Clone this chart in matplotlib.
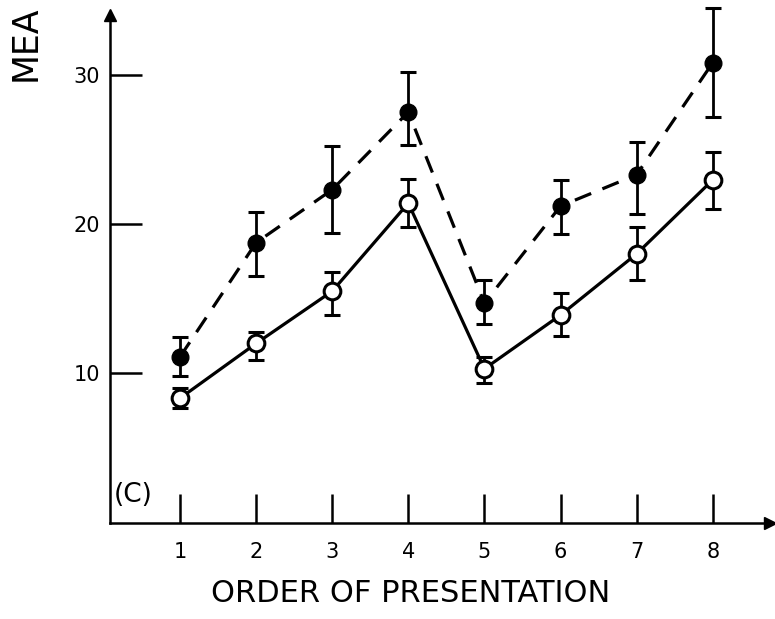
# order of presentation plot (C)

import numpy as np
import matplotlib.pyplot as plt

order = [1, 2, 3, 4, 5, 6, 7, 8]

# filled circles, dashed line
filled_mean = [11.1, 18.75, 22.3, 27.5, 14.7, 21.2, 23.3, 30.8]
filled_lo = [9.8, 16.5, 19.4, 25.3, 13.3, 19.3, 20.7, 27.2]
filled_hi = [12.4, 20.8, 25.2, 30.2, 16.25, 22.95, 25.5, 34.5]

# open circles, solid line
open_mean = [8.33, 12.0, 15.5, 21.4, 10.3, 13.9, 18.0, 22.95]
open_lo = [7.66, 10.9, 13.9, 19.8, 9.37, 12.5, 16.25, 21.0]
open_hi = [9.0, 12.8, 16.8, 23.0, 11.07, 15.4, 19.8, 24.8]

ytick_vals = [10, 20, 30]

plt.rcParams['font.family'] = 'DejaVu Sans'

fig = plt.figure(figsize=(7.75, 6.19), dpi=100)
ax = fig.add_axes([110/775, (619-522.6)/619, 660/775, (522.6-15)/619])

x = np.array(order)
fm = np.array(filled_mean); om = np.array(open_mean)
ferr = [fm - np.array(filled_lo), np.array(filled_hi) - fm]
oerr = [om - np.array(open_lo), np.array(open_hi) - om]

ax.errorbar(x, fm, yerr=ferr, fmt='none', ecolor='black', elinewidth=2,
            capsize=6, capthick=2.2, clip_on=False, zorder=2)
ax.errorbar(x, om, yerr=oerr, fmt='none', ecolor='black', elinewidth=2,
            capsize=6, capthick=2.2, clip_on=False, zorder=2)
ax.plot(x, fm, color='black', lw=2.3, dashes=(5.5, 3.8), zorder=3, clip_on=False)
ax.plot(x, om, color='black', lw=2.3, zorder=3, clip_on=False)
ax.plot(x, fm, 'o', ms=12, mfc='black', mec='black', zorder=4, clip_on=False)
ax.plot(x, om, 'o', ms=12, mfc='white', mec='black', mew=2.2, zorder=4, clip_on=False)

ax.set_xlim(1 + (110-180)/76.1, 1 + (770-180)/76.1)
ax.set_ylim(0, 34)

for s in ['top', 'right']:
    ax.spines[s].set_visible(False)
ax.spines['left'].set_linewidth(1.8)
ax.spines['bottom'].set_linewidth(1.8)

# arrow heads
ax.plot(0, 1, marker='^', ms=9, color='black', transform=ax.transAxes, clip_on=False)
ax.plot(1, 0, marker='>', ms=9, color='black', transform=ax.transAxes, clip_on=False)

ax.set_xticks(order)
ax.set_xticklabels([str(o) for o in order])
ax.set_yticks(ytick_vals)
ax.tick_params(axis='x', direction='in', length=21, width=1.8, pad=14, labelsize=15)
ax.tick_params(axis='y', direction='in', length=23, width=1.8, pad=7, labelsize=15)

ax.set_xlabel('ORDER OF PRESENTATION', fontsize=22)
ax.xaxis.set_label_coords(0.455, -0.112)
fig.text(26/775, 1 - 43/619, 'MEA', rotation=90, fontsize=25, ha='center', va='center')
ax.text(0.006, 0.054, '(C)', fontsize=19, transform=ax.transAxes, ha='left', va='center')

plt.savefig('out.png', dpi=100)
